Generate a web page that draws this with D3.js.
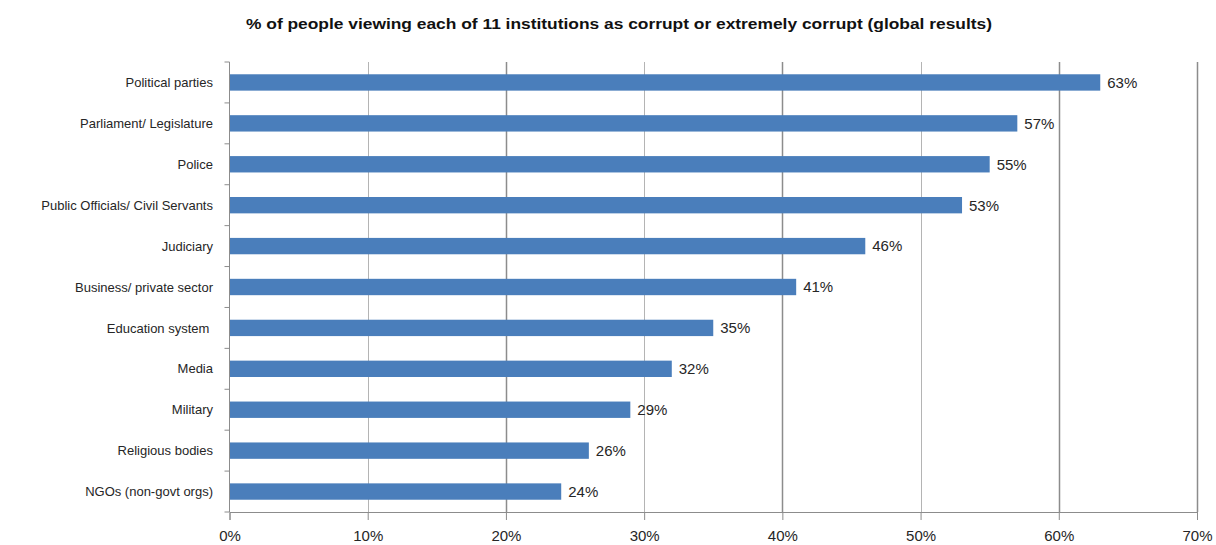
<!DOCTYPE html>
<html>
<head>
<meta charset="utf-8">
<script src="https://cdn.jsdelivr.net/npm/d3@7"></script>
<style>
  html, body { margin: 0; padding: 0; background: #fff; }
  svg { display: block; }
  text { font-family: "Liberation Sans", Arial, sans-serif; fill: #262626; }
</style>
</head>
<body>
<svg id="chart" width="1216" height="545"></svg>
<script>
// Institutions, top to bottom
const categories = [
  "Political parties",
  "Parliament/ Legislature",
  "Police",
  "Public Officials/ Civil Servants",
  "Judiciary",
  "Business/ private sector",
  "Education system ",
  "Media",
  "Military",
  "Religious bodies",
  "NGOs (non-govt orgs)"
];
// Share of people viewing each institution as corrupt or extremely corrupt (%)
const values = [63, 57, 55, 53, 46, 41, 35, 32, 29, 26, 24];
// X axis ticks (%)
const tickValues = [0, 10, 20, 30, 40, 50, 60, 70];
const titleText = "% of people viewing each of 11 institutions as corrupt or extremely corrupt (global results)";

const svg = d3.select("#chart");
const margin = { top: 62, right: 19, bottom: 33, left: 229.5 };
const W = 1216, H = 545;

const x = d3.scaleLinear().domain([0, 70]).range([margin.left, W - margin.right]);
const y = d3.scaleBand().domain(categories).range([margin.top, H - margin.bottom]).paddingInner(0.6).paddingOuter(0.3);
const yEdges = d3.scaleBand().domain(categories).range([margin.top, H - margin.bottom]);

// Title
svg.append("text")
  .attr("x", 246).attr("y", 29)
  .attr("textLength", 746)
  .attr("lengthAdjust", "spacingAndGlyphs")
  .style("font-size", "15px").style("font-weight", "bold").style("fill", "#111")
  .text(titleText);

// Vertical gridlines
svg.append("g").selectAll("line")
  .data(tickValues.filter(d => d > 0))
  .join("line")
  .attr("x1", d => Math.round(x(d)) + 0.5).attr("x2", d => Math.round(x(d)) + 0.5)
  .attr("y1", margin.top).attr("y2", H - margin.bottom)
  .attr("stroke", d => (d % 20 === 0 || d === 70) ? "#8c8c8c" : "#b4b4b4")
  .attr("stroke-width", d => (d % 20 === 0 || d === 70) ? 1.5 : 1);

// Bars
svg.append("g").selectAll("rect")
  .data(values)
  .join("rect")
  .attr("x", x(0))
  .attr("y", (d, i) => y(categories[i]))
  .attr("width", d => x(d) - x(0))
  .attr("height", y.bandwidth())
  .attr("fill", "#4a7ebb");

// Value labels
svg.append("g").selectAll("text")
  .data(values)
  .join("text")
  .attr("x", d => x(d) + 7)
  .attr("y", (d, i) => y(categories[i]) + y.bandwidth() / 2)
  .attr("dy", "0.36em")
  .style("font-size", "15px")
  .text(d => d + "%");

// X axis
const xAxis = d3.axisBottom(x)
  .tickValues(tickValues)
  .tickFormat(d => d + "%")
  .tickSize(8)
  .tickPadding(10);
const gx = svg.append("g")
  .attr("transform", `translate(0,${H - margin.bottom})`)
  .call(xAxis);
gx.select(".domain").attr("stroke", "#8c8c8c");
gx.selectAll(".tick line").attr("stroke", "#8c8c8c");
gx.selectAll(".tick text")
  .style("font-size", "15px").style("font-family", "Liberation Sans, Arial, sans-serif")
  .attr("fill", "#262626");

// Y axis: line plus short ticks between categories
const gy = svg.append("g");
gy.append("line")
  .attr("x1", x(0)).attr("x2", x(0))
  .attr("y1", margin.top).attr("y2", H - margin.bottom)
  .attr("stroke", "#8c8c8c");
gy.selectAll("line.tk")
  .data(categories.concat([null]))
  .join("line")
  .attr("class", "tk")
  .attr("x1", x(0) - 5).attr("x2", x(0))
  .attr("y1", (d, i) => margin.top + i * yEdges.step())
  .attr("y2", (d, i) => margin.top + i * yEdges.step())
  .attr("stroke", "#8c8c8c");
gy.selectAll("text")
  .data(categories)
  .join("text")
  .attr("x", 213)
  .attr("y", d => y(d) + y.bandwidth() / 2)
  .attr("dy", "0.36em")
  .attr("text-anchor", "end")
  .attr("xml:space", "preserve")
  .style("white-space", "pre")
  .style("font-size", "13px")
  .text(d => d);
</script>
</body>
</html>
